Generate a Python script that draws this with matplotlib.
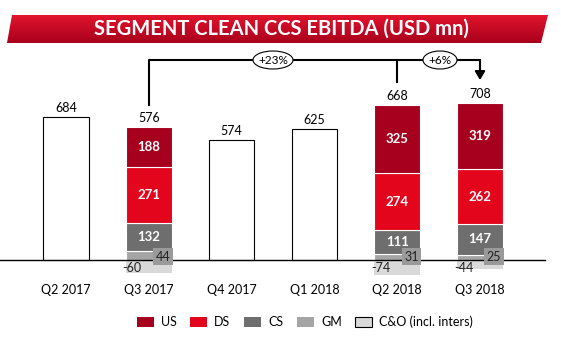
import numpy as np
import matplotlib
matplotlib.use('Agg')
import matplotlib.pyplot as plt
from matplotlib.patches import Patch, Polygon, Ellipse

plt.rcParams['font.family'] = ['Lato', 'DejaVu Sans']

quarters = ['Q2 2017', 'Q3 2017', 'Q4 2017', 'Q1 2018', 'Q2 2018', 'Q3 2018']
totals = [684, 576, 574, 625, 668, 708]
stacked = [False, True, False, False, True, True]
us = [0, 188, 0, 0, 325, 319]
ds = [0, 271, 0, 0, 274, 262]
cs = [0, 132, 0, 0, 111, 147]
gm = [0, 44, 0, 0, 31, 25]
co = [0, -60, 0, 0, -74, -44]
growth = ['+23%', '+6%']

C_US = '#a6001e'
C_DS = '#e3051b'
C_CS = '#6e6e6e'
C_GM = '#a5a5a5'
C_CO = '#d9d9d9'

fig = plt.figure(figsize=(5.61, 3.51), dpi=100)
ax = fig.add_axes([0, 0, 1, 1])
px_x = 82.8   # px per category
px_y = 0.209  # px per unit
x0, y0 = 66, 260
ax.set_xlim(-x0 / px_x, (561 - x0) / px_x)
ax.set_ylim(-(351 - y0) / px_y, y0 / px_y)
ax.axis('off')

x = np.arange(len(quarters))
w = 0.55

for i in range(len(quarters)):
    if not stacked[i]:
        ax.bar(x[i], totals[i], w, color='white', edgecolor='black', linewidth=0.8)
        top = totals[i]
    else:
        b = 0
        for val, col in [(gm[i], C_GM), (cs[i], C_CS), (ds[i], C_DS), (us[i], C_US)]:
            ax.bar(x[i], val, w, bottom=b, color=col, edgecolor='white', linewidth=0.8)
            b += val
        ax.bar(x[i], co[i], w, color=C_CO, edgecolor='none')
        top = b
        # segment labels
        ax.text(x[i], gm[i] + cs[i] / 2, str(cs[i]), color='white', ha='center', va='center',
                fontsize=9.5, fontweight='bold')
        ax.text(x[i], gm[i] + cs[i] + ds[i] / 2, str(ds[i]), color='white', ha='center',
                va='center', fontsize=9.5, fontweight='bold')
        ax.text(x[i], gm[i] + cs[i] + ds[i] + us[i] / 2, str(us[i]), color='white',
                ha='center', va='center', fontsize=9.5, fontweight='bold')
        ax.text(x[i] + 0.17, 15, str(gm[i]), color='#222222', ha='center', va='center',
                fontsize=9, bbox=dict(boxstyle='square,pad=0.2', fc='#9a9a9a', ec='none'))
        ax.text(x[i] - 0.2, -38, str(co[i]), color='#222222', ha='center', va='center',
                fontsize=9)
    ax.text(x[i], top + 43, str(totals[i]), ha='center', va='center', fontsize=9)

# baseline
ax.plot([-x0 / px_x, (545 - x0) / px_x], [0, 0], color='black', linewidth=1)

# category labels
for i, q in enumerate(quarters):
    ax.text(x[i], -(290 - y0) / px_y, q, ha='center', va='center', fontsize=9)

# growth bracket
yb = (y0 - 60) / px_y
ax.plot([x[1], x[1], x[5]], [(y0 - 105) / px_y, yb, yb], color='black', linewidth=1.5)
ax.plot([x[4], x[4]], [yb, (y0 - 82) / px_y], color='black', linewidth=1.5)
ax.annotate('', xy=(x[5], (y0 - 80) / px_y), xytext=(x[5], yb),
            arrowprops=dict(arrowstyle='-|>,head_width=0.3,head_length=0.5',
                            color='black', lw=1.5, shrinkA=0, shrinkB=0))
for (cx, ew), lab in zip([(273, 40), (440, 34)], growth):
    xc = (cx - x0) / px_x
    ax.add_patch(Ellipse((xc, yb), ew / px_x, 18 / px_y, fc='white', ec='black', lw=0.8, zorder=5))
    ax.text(xc, yb, lab, ha='center', va='center', fontsize=8.5, zorder=6)

# title banner with gradient
cmap = matplotlib.colors.LinearSegmentedColormap.from_list('r', ['#a8001c', '#e2142d'])
grad = np.linspace(0, 1, 100).reshape(-1, 1)
bax = fig.add_axes([7 / 561, (351 - 43) / 351, 541 / 561, 28 / 351])
bax.axis('off')
bax.set_xlim(7, 548)
bax.set_ylim(351 - 43, 351 - 15)
img = bax.imshow(grad, cmap=cmap, origin='lower', aspect='auto',
                 extent=(7, 548, 351 - 43, 351 - 15))
clip = Polygon([(12, 351 - 15), (548, 351 - 15), (541, 351 - 43), (7, 351 - 43)],
               closed=True, transform=bax.transData, fc='none', ec='none')
bax.add_patch(clip)
img.set_clip_path(clip)
fig.text(281 / 561, (351 - 29) / 351, 'SEGMENT CLEAN CCS EBITDA (USD mn)', color='white',
         ha='center', va='center', fontsize=14.5, fontweight='bold')

# legend
handles = [Patch(fc=C_US, ec='none'), Patch(fc=C_DS, ec='none'), Patch(fc=C_CS, ec='none'),
           Patch(fc=C_GM, ec='none'), Patch(fc=C_CO, ec='black', lw=0.8)]
labels = ['US', 'DS', 'CS', 'GM', 'C&O (incl. inters)']
fig.legend(handles, labels, loc='center', bbox_to_anchor=(305 / 561, (351 - 322) / 351), ncol=5,
           frameon=False, fontsize=9, handlelength=1.36, handleheight=0.95,
           columnspacing=1.1, handletextpad=0.55)

fig.savefig('out.png', dpi=100)
